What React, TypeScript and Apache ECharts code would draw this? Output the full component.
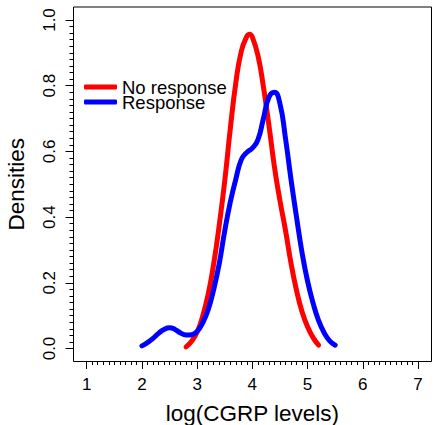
import React, { useEffect, useRef } from "react";
import * as echarts from "echarts";

const FONT = "'Liberation Sans', Arial, Helvetica, sans-serif";

const seriesNames = ["No response", "Response"];
const seriesColors = ["#FF0000", "#0000FF"];

const noResponseX = [2.8, 2.9, 3.0, 3.1, 3.2, 3.3, 3.4, 3.5, 3.6, 3.7, 3.8, 3.9, 3.95, 4.0, 4.1, 4.2, 4.3, 4.4, 4.5, 4.6, 4.7, 4.8, 4.9, 5.0, 5.1, 5.2];
const noResponseY = [0.005, 0.022, 0.05, 0.098, 0.165, 0.258, 0.375, 0.51, 0.668, 0.808, 0.905, 0.95, 0.957, 0.948, 0.893, 0.797, 0.68, 0.553, 0.45, 0.36, 0.26, 0.177, 0.112, 0.066, 0.033, 0.01];

const responseX = [2.0, 2.1, 2.2, 2.3, 2.4, 2.5, 2.6, 2.7, 2.8, 2.9, 3.0, 3.1, 3.2, 3.3, 3.4, 3.5, 3.6, 3.7, 3.8, 3.9, 4.0, 4.1, 4.2, 4.3, 4.4, 4.5, 4.6, 4.7, 4.8, 4.9, 5.0, 5.1, 5.2, 5.3, 5.4, 5.5];
const responseY = [0.008, 0.018, 0.031, 0.046, 0.058, 0.063, 0.058, 0.047, 0.041, 0.042, 0.052, 0.078, 0.118, 0.18, 0.258, 0.358, 0.445, 0.515, 0.575, 0.597, 0.61, 0.635, 0.7, 0.765, 0.78, 0.745, 0.64, 0.515, 0.4, 0.292, 0.205, 0.138, 0.085, 0.048, 0.023, 0.01];

const xRange = [1, 7];
const xInterval = 1;
const yRange = [0, 1];
const yInterval = 0.2;

const xTitle = "log(CGRP levels)";
const yTitle = "Densities";

export default function App() {
  const ref = useRef<HTMLDivElement>(null);

  useEffect(() => {
    if (!ref.current) return;
    const chart = echarts.init(ref.current, null, { renderer: "svg" });
    const pairs = (xs: number[], ys: number[]) => xs.map((x, i) => [x, ys[i]]);
    const option: any = {
      animation: false,
      backgroundColor: "#ffffff",
      textStyle: { fontFamily: FONT },
      grid: {
        left: 86.7,
        right: 16,
        top: 20,
        bottom: 76.5,
        containLabel: false,
        outerBoundsMode: "none",
      },
      legend: {
        data: seriesNames,
        orient: "vertical",
        left: 84,
        top: 77.5,
        padding: 0,
        itemWidth: 33,
        itemHeight: 5,
        itemGap: -4,
        icon: "roundRect",
        textStyle: { fontFamily: FONT, fontSize: 18.5, color: "#000", lineHeight: 16 },
      },
      xAxis: {
        type: "value",
        min: xRange[0],
        max: xRange[1],
        interval: xInterval,
        offset: 12.5,
        name: xTitle,
        nameLocation: "middle",
        nameGap: 41,
        nameTextStyle: { fontFamily: FONT, fontSize: 22.5, color: "#000" },
        axisLine: { show: true, onZero: false, lineStyle: { color: "#000", width: 1 } },
        axisTick: { show: true, length: 8, lineStyle: { color: "#000", width: 1 } },
        minorTick: { show: true, splitNumber: 10, length: 4, lineStyle: { color: "#000", width: 1 } },
        axisLabel: { fontFamily: FONT, fontSize: 17, color: "#000", margin: 15 },
        splitLine: { show: false },
        minorSplitLine: { show: false },
      },
      yAxis: {
        type: "value",
        min: yRange[0],
        max: yRange[1],
        interval: yInterval,
        offset: 13.2,
        name: yTitle,
        nameLocation: "middle",
        nameRotate: 90,
        nameGap: 46,
        nameTextStyle: { fontFamily: FONT, fontSize: 22.5, color: "#000" },
        axisLine: { show: true, onZero: false, lineStyle: { color: "#000", width: 1 } },
        axisTick: { show: true, length: 8, lineStyle: { color: "#000", width: 1 } },
        minorTick: { show: true, splitNumber: 10, length: 4, lineStyle: { color: "#000", width: 1 } },
        axisLabel: {
          fontFamily: FONT,
          fontSize: 17,
          color: "#000",
          rotate: 90,
          margin: 16,
          formatter: (v: number) => v.toFixed(1),
        },
        splitLine: { show: false },
        minorSplitLine: { show: false },
      },
      graphic: [
        {
          type: "rect",
          shape: { x: 73.5, y: 7, width: 358, height: 354.5 },
          style: { fill: "none", stroke: "#000", lineWidth: 1 },
          silent: true,
          z: 10,
        },
      ],
      series: [
        {
          name: seriesNames[0],
          type: "line",
          data: pairs(noResponseX, noResponseY),
          smooth: 0.5,
          showSymbol: false,
          symbol: "none",
          clip: false,
          color: seriesColors[0],
          lineStyle: { color: seriesColors[0], width: 5, cap: "round", join: "round" },
          z: 3,
        },
        {
          name: seriesNames[1],
          type: "line",
          data: pairs(responseX, responseY),
          smooth: 0.5,
          showSymbol: false,
          symbol: "none",
          clip: false,
          color: seriesColors[1],
          lineStyle: { color: seriesColors[1], width: 5, cap: "round", join: "round" },
          z: 4,
        },
      ],
    };
    chart.setOption(option);
    return () => chart.dispose();
  }, []);

  return (
    <div
      ref={ref}
      style={{ position: "fixed", left: 0, top: 0, width: 434, height: 425, background: "#fff" }}
    />
  );
}
